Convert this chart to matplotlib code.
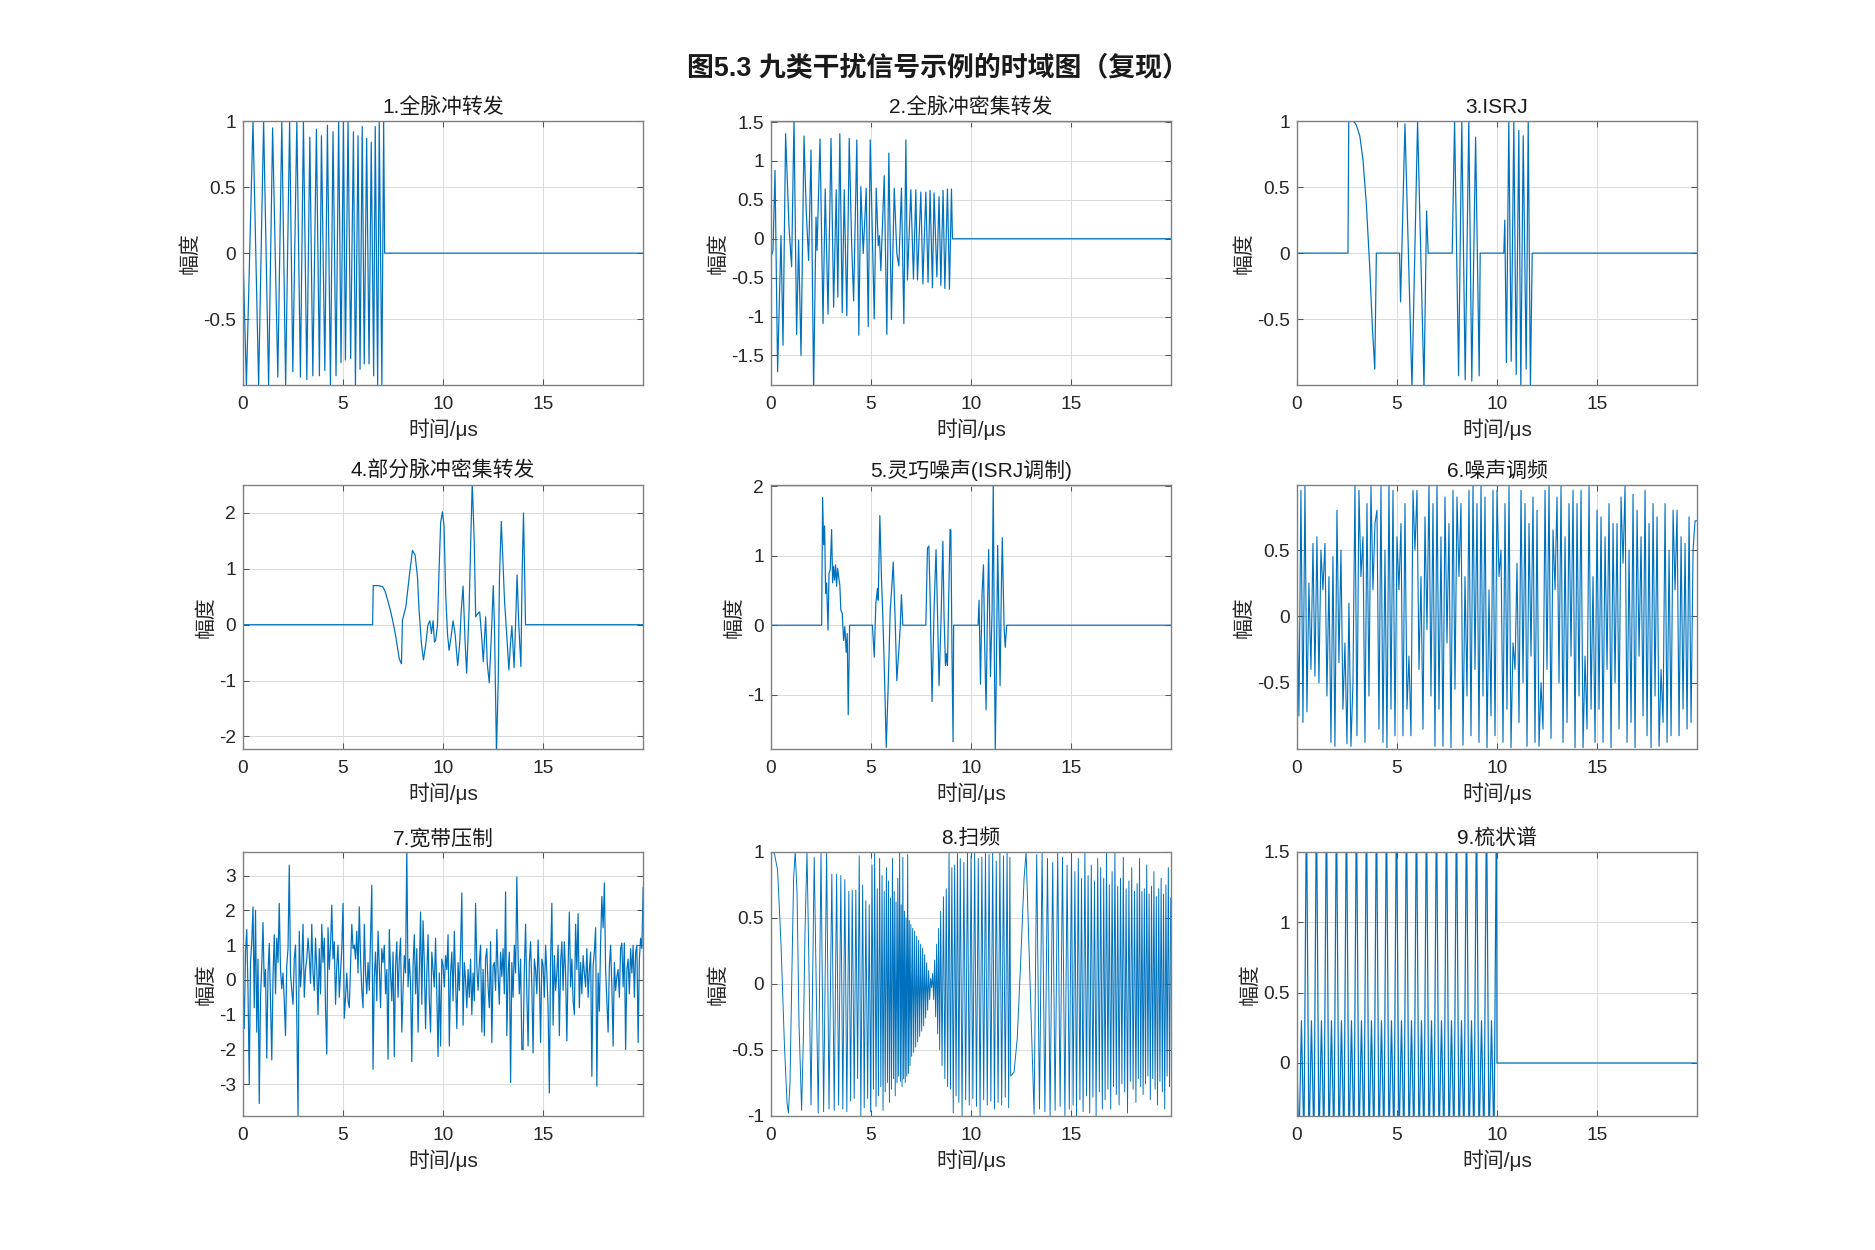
import numpy as np
import matplotlib
matplotlib.use('Agg')
import matplotlib.pyplot as plt
from matplotlib.ticker import FuncFormatter

plt.rcParams['font.family'] = ['Liberation Sans', 'Noto Sans CJK SC']
plt.rcParams['axes.unicode_minus'] = False

suptitle = '图5.3 九类干扰信号示例的时域图（复现）'
titles = ['1.全脉冲转发', '2.全脉冲密集转发', '3.ISRJ',
          '4.部分脉冲密集转发', '5.灵巧噪声(ISRJ调制)', '6.噪声调频',
          '7.宽带压制', '8.扫频', '9.梳状谱']
xlabel = '时间/μs'
ylabel = '幅度'
x_ticks = [0, 5, 10, 15]

# ---- panel 1: full pulse repeater ----
p1_t = [0.0, 0.17, 0.50, 0.78, 1.03, 1.28, 1.48, 1.74, 1.94, 2.13, 2.33, 2.49,
        2.69, 2.87, 3.02, 3.19, 3.34, 3.49, 3.67, 3.82, 3.92, 4.09, 4.22, 4.37,
        4.50, 4.65, 4.78, 4.90, 5.02, 5.12, 5.25, 5.38, 5.52, 5.62, 5.75, 5.85,
        5.96, 6.06, 6.18, 6.30, 6.41, 6.53, 6.61, 6.73, 6.81, 6.94, 7.03, 7.08, 20.0]
p1_v = [0.0, -1.0, 1.0, -1.0, 1.0, -1.0, 0.95, -0.94, 1.0, -1.0, 1.0, -0.90,
        1.0, -0.94, 1.0, -0.96, 0.88, -0.93, 0.94, -0.93, 0.89, -0.89, 0.97, -1.0,
        0.92, -0.93, 1.0, -0.83, 1.0, -0.81, 1.0, -0.80, 0.92, -1.0, 0.89, -0.88,
        0.96, -0.84, 0.87, -0.84, 0.84, -0.93, 0.96, -1.0, 1.0, -1.0, 1.0, 0.0, 0.0]

# ---- panel 2: full pulse dense repeater ----
p2_t = [0.00, 0.10, 0.20, 0.33, 0.50, 0.60, 0.73, 0.90, 1.03, 1.15, 1.28, 1.38,
        1.50, 1.65, 1.76, 1.88, 2.00, 2.13, 2.25, 2.30, 2.45, 2.60, 2.71, 2.85,
        3.00, 3.13, 3.26, 3.34, 3.44, 3.56, 3.66, 3.79, 3.91, 4.03, 4.13, 4.29,
        4.39, 4.49, 4.61, 4.76, 4.86, 4.96, 5.16, 5.26, 5.36, 5.42, 5.49, 5.66,
        5.79, 5.89, 6.02, 6.16, 6.29, 6.39, 6.52, 6.64, 6.74, 6.82, 6.99, 7.12,
        7.24, 7.32, 7.49, 7.59, 7.74, 7.85, 7.95, 8.07, 8.15, 8.29, 8.40, 8.49,
        8.60, 8.69, 8.82, 8.92, 9.02, 9.07, 20.0]
p2_v = [-0.24, -0.15, 0.88, -1.71, 0.04, -1.37, 1.35, 0.15, -0.36, 1.55, -1.23, -0.02,
        -1.50, 1.32, 0.36, -0.28, 1.14, -1.95, 0.28, -0.15, 1.28, -1.09, 0.64, -0.97,
        1.29, -0.88, 0.63, -0.75, 1.35, -0.95, 0.63, -0.99, 1.29, -0.06, -0.80, 1.27,
        -1.24, 0.67, -0.19, 0.65, -1.13, 1.27, -1.03, 0.65, -0.09, 0.04, -0.41, 0.81,
        -1.23, 1.10, -1.04, 0.65, -0.19, -0.35, 0.65, -1.09, 1.27, -0.53, 0.63, -0.52,
        0.63, -0.53, 0.60, -0.58, 0.60, -0.56, 0.62, -0.63, 0.59, -0.49, 0.54, -0.60,
        0.62, -0.64, 0.64, -0.65, 0.64, 0.0, 0.0]

# ---- panel 3: ISRJ ----
p3_t = [0.0, 2.55, 2.59, 2.80, 2.89, 2.97, 3.14, 3.30, 3.47, 3.64, 3.77, 3.89,
        3.97, 5.13, 5.18, 5.40, 5.75, 6.03, 6.35, 6.48, 6.56, 7.76, 7.88, 8.08,
        8.24, 8.41, 8.59, 8.74, 8.93, 9.11, 9.16, 10.34, 10.39, 10.47, 10.59, 10.71,
        10.84, 10.96, 11.09, 11.19, 11.31, 11.46, 11.56, 11.67, 11.76, 20.0]
p3_v = [0.0, 0.0, 1.0, 1.0, 0.99, 0.97, 0.89, 0.71, 0.37, -0.11, -0.56, -0.88,
        0.0, 0.0, -0.37, 0.98, -1.02, 1.0, -1.02, 0.32, 0.0, 0.0, 1.0, -0.93,
        1.0, -0.96, 1.0, -0.97, 0.88, -0.93, 0.0, 0.0, 0.25, -0.83, 1.0, -0.82,
        1.0, -0.92, 0.93, -1.02, 0.89, -0.88, 1.0, -1.02, 0.0, 0.0]

# ---- panel 4: partial pulse dense repeater ----
p4_t = [0.0, 6.48, 6.51, 6.75, 6.98, 7.10, 7.23, 7.35, 7.48, 7.64, 7.81, 7.92,
        7.97, 8.14, 8.31, 8.47, 8.60, 8.72, 8.80, 8.92, 9.02, 9.14, 9.24, 9.34,
        9.42, 9.50, 9.57, 9.63, 9.72, 9.80, 9.88, 9.97, 10.05, 10.13, 10.22, 10.30,
        10.40, 10.50, 10.60, 10.73, 10.83, 10.91, 11.00, 11.10, 11.18, 11.30, 11.38, 11.46,
        11.56, 11.63, 11.73, 11.83, 11.93, 12.01, 12.13, 12.21, 12.31, 12.41, 12.51, 12.57,
        12.67, 12.76, 12.82, 12.91, 12.99, 13.07, 13.21, 13.29, 13.37, 13.44, 13.55, 13.62,
        13.70, 13.79, 13.89, 13.95, 14.02, 14.09, 14.12, 20.0]
p4_v = [0.0, 0.0, 0.70, 0.70, 0.68, 0.60, 0.44, 0.28, 0.08, -0.22, -0.61, -0.70,
        0.08, 0.32, 0.86, 1.33, 1.25, 0.86, 0.26, -0.34, -0.63, -0.34, -0.01, 0.07,
        -0.16, 0.07, -0.31, -0.28, -0.01, 0.98, 1.83, 2.02, 1.76, 0.56, -0.16, -0.46,
        -0.22, 0.07, -0.16, -0.73, -0.34, 0.26, 0.69, -0.30, -0.87, 0.26, 1.46, 2.55,
        1.46, 0.14, 0.20, 0.23, -0.22, -0.66, 0.14, -0.70, -1.04, -0.22, 0.70, -0.04,
        -2.30, -0.95, 0.86, 1.85, 1.16, 0.44, -0.34, -0.81, -0.34, -0.02, -0.77, -0.04,
        0.89, -0.04, -0.75, 0.86, 2.00, 0.68, 0.0, 0.0]

# ---- panel 5: smart noise (ISRJ modulated) ----
p5_t = [0.0, 2.53, 2.58, 2.63, 2.68, 2.73, 2.78, 2.85, 2.90, 2.96, 3.03, 3.08,
        3.13, 3.18, 3.23, 3.28, 3.33, 3.38, 3.44, 3.49, 3.56, 3.63, 3.69, 3.76,
        3.81, 3.86, 3.93, 5.07, 5.16, 5.24, 5.32, 5.36, 5.44, 5.52, 5.59, 5.66,
        5.76, 5.86, 5.96, 6.04, 6.11, 6.19, 6.29, 6.39, 6.46, 6.52, 6.59, 7.74,
        7.82, 7.89, 7.95, 8.05, 8.15, 8.25, 8.32, 8.40, 8.49, 8.59, 8.65, 8.72,
        8.77, 8.82, 8.87, 8.95, 8.99, 9.05, 9.10, 9.13, 10.35, 10.40, 10.47, 10.55,
        10.62, 10.68, 10.75, 10.82, 10.88, 10.97, 11.05, 11.11, 11.16, 11.21, 11.26, 11.33,
        11.40, 11.45, 11.51, 11.56, 11.65, 11.71, 11.78, 20.0]
p5_v = [0.0, 0.0, 1.84, 1.16, 1.43, 0.46, 0.61, -0.07, 0.75, 0.80, 1.38, 0.61,
        0.85, 0.65, 0.87, 0.56, 0.82, 0.70, 0.58, 0.22, 0.17, -0.22, -0.02, -0.39,
        -0.12, -1.29, 0.0, 0.0, -0.46, 0.31, 0.53, 0.36, 1.58, 0.70, 0.12, -0.58,
        -1.76, -0.85, 0.22, 0.56, 0.91, 0.22, -0.80, -0.36, -0.02, 0.44, 0.0, 0.0,
        1.11, 1.14, 0.46, -1.10, 0.22, 1.09, 0.22, -0.87, -0.02, 1.21, 0.12, -0.58,
        -0.41, -0.58, 0.22, 1.38, 1.37, -0.51, -1.68, 0.0, 0.0, 0.36, -0.85, 0.46,
        0.87, -0.27, -1.22, 0.22, 1.09, -0.74, 0.22, 2.05, -0.27, -1.80, -0.75, 1.15,
        -0.02, -0.87, 0.46, 1.26, -0.02, -0.32, 0.0, 0.0]

# ---- panel 6: noise FM (samples every 0.1 us) ----
p6_v = [0.2, -0.75, 0.95, -0.8, 0.98, -0.72, 0.25, -0.4, 0.55, -0.45,
        0.6, -0.5, 0.5, 0.2, 0.55, -0.6, 0.3, -0.95, 0.45, -0.98,
        0.8, -0.35, 0.5, -0.7, -0.2, -0.96, 0.1, -0.98, -0.5, 0.99,
        -0.9, 0.95, 0.3, 0.6, -0.95, 0.85, -0.6, 0.98, 0.2, 0.7,
        0.8, -0.85, 0.98, -0.95, 0.5, -0.99, 1.0, -0.7, 0.95, -0.9,
        0.6, 0.2, 0.7, -0.9, 0.85, -0.7, -0.3, -0.9, 0.95, 0.5,
        0.95, -0.4, 0.3, -0.85, 0.75, -0.1, 0.99, -0.6, 0.85, -0.98,
        1.0, -0.7, 0.6, -0.98, 0.9, -0.2, 0.7, -0.99, 0.95, -0.55,
        0.9, 0.3, 0.85, -0.97, 0.3, -0.6, 0.95, -0.9, 0.99, -0.4,
        0.85, -0.95, 0.98, -0.6, 0.9, -0.99, 0.2, -0.75, 0.95, -0.9,
        0.95, 0.3, 0.5, -0.95, 0.85, -0.7, 0.98, -0.99, -0.2, -0.4,
        0.4, -0.8, 0.95, -0.5, 0.85, -0.98, 0.7, -0.3, 0.9, -0.95,
        0.8, -0.98, -0.5, -0.85, 0.95, -0.4, 0.99, -0.92, 0.65, 0.2,
        0.9, -0.5, 0.98, -0.95, 0.6, -0.8, 0.85, -0.3, 0.95, -0.99,
        0.85, -0.6, 0.95, -0.99, -0.3, -0.85, 0.98, -0.7, 0.3, -0.95,
        0.8, -0.7, 0.75, -0.95, 0.6, -0.4, 0.85, -0.99, 0.7, -0.5,
        0.7, -0.85, 0.9, 0.4, 0.98, -0.95, 0.5, -0.8, 0.92, -0.99,
        0.8, -0.3, 0.6, -0.75, 0.95, -0.9, 0.7, -0.99, 0.85, -0.6,
        0.75, -0.98, -0.4, -0.8, 0.85, -0.95, 0.5, -0.9, 0.8, 0.2,
        0.8, -0.9, 0.6, -0.7, 0.55, -0.85, 0.75, -0.8, 0.5, 0.72,
        0.72]

# ---- panel 7: wideband barrage noise (samples every 0.0625 us) ----
p7_v = [0.0, -1.4, 0.8, 1.45, -0.3, -3.0, 0.5, 1.1, 2.1, -0.8, 2.0, -1.5, 0.6, -3.55, -0.5, 0.4,
        1.65, -0.2, 0.3, -2.25, 0.2, 1.05, -0.6, -2.3, 0.1, 1.3, -0.4, 1.2, 0.5, 2.2, 0.3, -0.25,
        0.2, -0.6, -1.6, 0.4, 0.9, 3.3, 0.2, -0.3, -0.7, 0.6, 1.0, -1.0, -3.95, 1.4, -0.2, 0.4,
        1.6, -0.5, 0.3, 0.6, 1.2, 0.7, -0.1, 1.6, 0.2, -0.3, 1.2, 0.3, -1.0, 0.9, -0.4, 1.6,
        0.5, 1.2, -0.8, -2.13, 1.5, 0.3, 1.0, 2.15, 0.6, 1.1, -0.7, 0.4, 1.0, -0.5, 0.2, 0.9,
        2.2, -1.1, -0.5, 0.2, -0.6, -0.8, 0.4, 1.6, 0.9, 1.0, 0.6, 1.4, 0.2, 2.1, 0.6, -0.3,
        -0.8, 1.6, 0.2, -0.4, 0.5, -0.3, 1.2, 2.72, -2.57, 0.1, 0.8, -0.6, 1.4, 0.4, -0.8, 0.9,
        0.5, 1.0, -0.4, 0.3, -2.28, 1.45, 0.2, -0.6, 0.8, -2.2, 0.4, 1.1, -0.5, 0.6, 1.2, -1.5,
        -0.3, 0.7, 0.2, 3.75, -0.2, 0.6, -0.1, -2.35, 0.4, 1.3, -0.4, 0.9, -1.5, 0.3, 1.95, -0.7,
        1.7, 0.5, -1.4, 0.2, 1.3, -0.6, -1.5, 0.8, 0.3, -0.2, 1.2, -0.4, -2.2, 0.2, -1.9, 0.6,
        0.4, -0.2, 0.7, 0.3, 1.3, -1.9, 0.2, 0.8, -0.6, 1.4, 0.0, -1.4, 0.5, -0.3, 0.9, 2.5,
        -1.3, 0.5, 0.0, -0.8, 0.3, -0.5, 0.6, -1.0, 0.2, -0.6, 2.2, 0.4, -0.3, 0.5, 1.0, -1.5,
        0.3, -1.6, 0.6, 0.9, -0.2, -0.8, 1.1, -1.8, 0.4, 0.5, -0.3, 1.45, 0.2, -0.7, 0.8, 0.1,
        0.9, -0.4, 2.53, -1.6, 0.2, 0.8, -2.95, 0.5, -0.5, 1.0, 0.2, 2.96, 0.7, -0.4, 0.6, -2.0,
        -2.0, 0.3, 1.6, -0.4, -1.9, 0.5, 1.1, -0.2, -2.1, 0.6, 0.3, -0.4, 1.15, 0.1, -1.8, 0.6,
        0.4, -0.5, 1.0, 0.2, -0.8, -3.25, 0.6, 2.2, -1.3, 0.7, -0.3, 0.2, 1.0, -1.6, 0.5, 1.1,
        -0.3, 1.1, 0.2, -1.75, 0.4, 1.95, -0.2, 0.6, -0.6, -1.0, 1.6, 0.3, 1.9, -0.8, 0.5, -0.4,
        0.7, 0.2, -0.2, 0.9, -0.5, 0.3, 0.8, -2.77, 0.4, 0.8, 1.5, -3.05, 0.2, -0.9, 1.1, 2.4,
        1.5, 2.79, 0.3, -0.6, -1.5, 0.4, 1.0, -0.2, -1.9, 0.5, -0.3, 0.1, 0.3, -0.5, 0.9, 1.06,
        -0.2, 1.06, -2.0, 0.3, 0.6, -0.4, 0.9, 0.2, 1.0, -0.5, 0.8, 1.0, -1.8, 0.6, 1.2, 0.9,
        2.65]

# ---- panel 8: swept frequency (extrema) ----
p8_t = [0.00, 0.17, 0.33, 0.50, 0.67, 0.80, 0.87, 0.95, 1.04, 1.13, 1.21, 1.30,
        1.40, 1.53, 1.62, 1.70, 1.80, 1.90, 2.00, 2.16, 2.36, 2.50, 2.63, 2.78,
        2.90, 3.04, 3.16, 3.28, 3.38, 3.49, 3.59, 3.69, 3.79, 3.89, 3.98, 4.06,
        4.16, 4.24, 4.33, 4.41, 4.49, 4.58, 4.66, 4.74, 4.83, 4.91, 4.98,
        5.05, 5.12, 5.18, 5.25, 5.31, 5.37, 5.43, 5.49, 5.55, 5.60, 5.66, 5.71,
        5.77, 5.82, 5.87, 5.92, 5.97, 6.02, 6.07, 6.12, 6.16, 6.21, 6.25, 6.30,
        6.34, 6.38, 6.43, 6.47, 6.51, 6.55, 6.59, 6.63, 6.67, 6.71, 6.75, 6.79,
        6.83, 6.87, 6.91, 6.95, 6.99,
        7.03, 7.08, 7.13, 7.18, 7.23, 7.28, 7.33, 7.38, 7.43, 7.48, 7.53, 7.58,
        7.63, 7.68, 7.73, 7.78, 7.83, 7.88, 7.93, 7.98,
        8.03, 8.08, 8.13, 8.18, 8.23, 8.28, 8.33, 8.38, 8.43, 8.48, 8.55, 8.62,
        8.69, 8.76, 8.83, 8.90, 8.97, 9.04, 9.11, 9.18, 9.25, 9.32, 9.39, 9.46,
        9.55, 9.64, 9.73, 9.82, 9.91, 10.00, 10.09, 10.18, 10.27, 10.36, 10.45, 10.54,
        10.63, 10.72, 10.81, 10.90, 10.99, 11.08, 11.17, 11.26, 11.35, 11.44, 11.53, 11.62,
        11.71, 11.80, 11.88, 11.94, 11.98,
        12.15, 12.31, 12.48, 12.65, 12.75, 12.94, 13.15,
        13.28, 13.42, 13.55, 13.69, 13.82, 13.95, 14.08, 14.20, 14.33, 14.45, 14.57, 14.69,
        14.80, 14.91, 15.02,
        15.10, 15.19, 15.27, 15.36, 15.44, 15.52, 15.60, 15.69, 15.77, 15.85, 15.93, 16.01,
        16.09, 16.17, 16.25, 16.33, 16.41, 16.48, 16.56,
        16.63, 16.70, 16.77, 16.84, 16.91, 16.98, 17.05, 17.12, 17.19, 17.26, 17.33, 17.40,
        17.47, 17.54, 17.61, 17.68, 17.75, 17.82, 17.89, 17.96, 18.03, 18.10, 18.17, 18.24,
        18.30, 18.36, 18.42, 18.48, 18.54, 18.60, 18.66, 18.72, 18.78, 18.84, 18.90, 18.96,
        19.02, 19.08, 19.14, 19.20, 19.26, 19.32, 19.38, 19.44, 19.50, 19.56, 19.62, 19.68,
        19.74, 19.80, 19.86, 19.92, 19.98]
p8_v = [1.00, 0.99, 0.86, 0.30, -0.46, -0.90, -0.98, -0.75, 0.05, 0.80, 1.00, 0.70,
        -0.30, -0.96, -0.40, 0.40, 1.00, 0.10, -0.92, 0.96, -0.98, 1.00, -0.97, 1.00,
        -0.95, 0.83, -0.96, 0.83, -0.92, 0.82, -0.95, 0.79, -0.97, 0.70, -0.89, 0.71,
        -0.87, 0.71, -0.72, 0.97, -1.00, 0.75, -0.94, 0.63, -0.87, 0.60, -0.97,
        0.90, -0.80, 1.00, -0.93, 0.72, -0.85, 0.95, -0.78, 0.82, -0.96, 0.70, -0.82,
        0.88, -0.75, 0.78, -0.90, 0.65, -0.80, 0.95, -0.72, 0.70, -0.85, 0.62, -0.75,
        0.80, -0.70, 1.00, -0.74, 0.60, -0.78, 0.96, -0.72, 0.55, -0.75, 0.50, -0.70,
        0.98, -0.68, 0.48, -0.62, 0.45,
        -0.55, 0.42, -0.52, 0.40, -0.48, 0.36, -0.44, 0.33, -0.40, 0.30, -0.36, 0.27,
        -0.32, 0.22, -0.26, 0.16, -0.20, 0.10, -0.12, 0.04,
        -0.03, 0.08, -0.12, 0.18, -0.25, 0.30, -0.38, 0.42, -0.50, 0.55, -0.62, 0.66,
        -0.72, 0.72, -0.78, 1.00, -0.80, 0.88, -0.98, 0.90, -0.85, 1.00, -0.90, 0.95,
        -1.00, 0.92, -0.88, 1.00, -0.92, 0.97, -0.87, 1.00, -0.93, 0.95, -1.00, 0.96,
        -0.88, 1.00, -0.92, 0.98, -0.89, 1.00, -0.95, 0.93, -0.90, 1.00, -0.92, 0.97,
        -0.86, 1.00, -0.94, 0.96, -0.70,
        -0.67, -0.41, 0.17, 0.80, 1.00, 0.05, -0.99,
        0.98, -0.95, 1.00, -0.97, 0.95, -1.00, 0.92, -0.96, 1.00, -0.93, 0.96, -1.00,
        0.90, -0.95, 1.00,
        -0.92, 0.85, -1.00, 0.95, -0.88, 0.80, -0.97, 1.00, -0.85, 0.82, -0.98, 0.90,
        -0.86, 0.78, -1.00, 0.95, -0.82, 0.88, -0.95,
        0.80, -0.88, 1.00, -0.80, 0.75, -0.95, 0.85, -0.78, 1.00, -0.84, 0.74, -0.92,
        0.80, -0.76, 0.96, -0.82, 0.72, -0.98, 0.78, -0.74, 0.88, -0.80, 0.70, -0.90,
        0.76, -0.72, 0.95, -0.78, 0.70, -0.84, 0.72, -0.76, 0.90, -0.70, 0.68, -0.88,
        0.74, -0.72, 0.85, -0.80, 0.66, -0.92, 0.72, -0.74, 0.80, -0.82, 0.68, -0.95,
        0.75, -0.70, 0.88, -0.78, 0.65]

# ---- panel 9: comb spectrum ----
p9_t = [0.0,
        0.10, 0.225, 0.35, 0.475, 0.60, 0.725, 0.85, 0.975,
        1.10, 1.225, 1.35, 1.475, 1.60, 1.725, 1.85, 1.975,
        2.10, 2.225, 2.35, 2.475, 2.60, 2.725, 2.85, 2.975,
        3.10, 3.225, 3.35, 3.475, 3.60, 3.725, 3.85, 3.975,
        4.10, 4.225, 4.35, 4.475, 4.60, 4.725, 4.85, 4.975,
        5.10, 5.225, 5.35, 5.475, 5.60, 5.725, 5.85, 5.975,
        6.10, 6.225, 6.35, 6.475, 6.60, 6.725, 6.85, 6.975,
        7.10, 7.225, 7.35, 7.475, 7.60, 7.725, 7.85, 7.975,
        8.10, 8.225, 8.35, 8.475, 8.60, 8.725, 8.85, 8.975,
        9.10, 9.225, 9.35, 9.475, 9.60, 9.725, 9.85, 9.975,
        10.0, 20.0]
p9_v = [0.0,
        -0.6, 0.3, -0.6, 1.9, -0.6, 0.3, -0.6, 1.9,
        -0.6, 0.3, -0.6, 1.9, -0.6, 0.3, -0.6, 1.9,
        -0.6, 0.3, -0.6, 1.9, -0.6, 0.3, -0.6, 1.9,
        -0.6, 0.3, -0.6, 1.9, -0.6, 0.3, -0.6, 1.9,
        -0.6, 0.3, -0.6, 1.9, -0.6, 0.3, -0.6, 1.9,
        -0.6, 0.3, -0.6, 1.9, -0.6, 0.3, -0.6, 1.9,
        -0.6, 0.3, -0.6, 1.9, -0.6, 0.3, -0.6, 1.9,
        -0.6, 0.3, -0.6, 1.9, -0.6, 0.3, -0.6, 1.9,
        -0.6, 0.3, -0.6, 1.9, -0.6, 0.3, -0.6, 1.9,
        -0.6, 0.3, -0.6, 1.9, -0.6, 0.3, -0.6, 1.9,
        0.0, 0.0]

p6_t = np.linspace(0.0, 20.0, len(p6_v))
p7_t = np.linspace(0.0, 20.0, len(p7_v))

series = [(p1_t, p1_v), (p2_t, p2_v), (p3_t, p3_v),
          (p4_t, p4_v), (p5_t, p5_v), (p6_t, p6_v),
          (p7_t, p7_v), (p8_t, p8_v), (p9_t, p9_v)]
y_limits = [(-0.9998, 1.0), (-1.88, 1.51), (-1.0, 1.0),
            (-2.22, 2.5), (-1.78, 2.02), (-0.998, 0.99),
            (-3.9, 3.68), (-1.0, 1.0), (-0.374, 1.5)]
y_ticks = [[-0.5, 0, 0.5, 1], [-1.5, -1, -0.5, 0, 0.5, 1, 1.5], [-0.5, 0, 0.5, 1],
           [-2, -1, 0, 1, 2], [-1, 0, 1, 2], [-0.5, 0, 0.5],
           [-3, -2, -1, 0, 1, 2, 3], [-1, -0.5, 0, 0.5, 1], [0, 0.5, 1, 1.5]]
line_widths = [0.7, 0.7, 0.7, 0.7, 0.7, 0.65, 0.7, 0.55, 0.7]

line_color = '#0072BD'
fig = plt.figure(figsize=(15, 10), dpi=125)
lefts = [0.1296, 0.4112, 0.6917]
bottoms = [0.692, 0.401, 0.1075]
w, h = 0.2134, 0.211
fmt = FuncFormatter(lambda v, _: ('%g' % v))

for i in range(9):
    r, c = divmod(i, 3)
    ax = fig.add_axes([lefts[c], bottoms[r], w, h])
    t, v = series[i]
    ax.plot(t, v, color=line_color, lw=line_widths[i])
    ax.set_xlim(0, 20)
    ax.set_ylim(*y_limits[i])
    ax.set_xticks(x_ticks)
    ax.set_yticks(y_ticks[i])
    ax.yaxis.set_major_formatter(fmt)
    ax.xaxis.set_major_formatter(fmt)
    ax.grid(True, color='#dcdcdc', lw=0.6)
    ax.set_axisbelow(True)
    ax.tick_params(direction='in', top=True, right=True, length=3.5, width=0.6,
                   color='#555555', labelcolor='#262626', labelsize=11)
    ax.tick_params(axis='x', pad=6.5)
    ax.tick_params(axis='y', pad=4)
    for s in ax.spines.values():
        s.set_color('#808080')
        s.set_linewidth(0.8)
    ax.set_title(titles[i], fontsize=12, color='#1a1a1a', pad=4.5)
    ax.set_xlabel(xlabel, fontsize=12, color='#262626', labelpad=3)
    ax.set_ylabel(ylabel, fontsize=12, color='#262626', labelpad=2)

fig.text(0.5, 0.945, suptitle, ha='center', va='center', fontsize=15.5,
         fontweight='bold', color='#1a1a1a')
fig.savefig('out.png', dpi=125)
